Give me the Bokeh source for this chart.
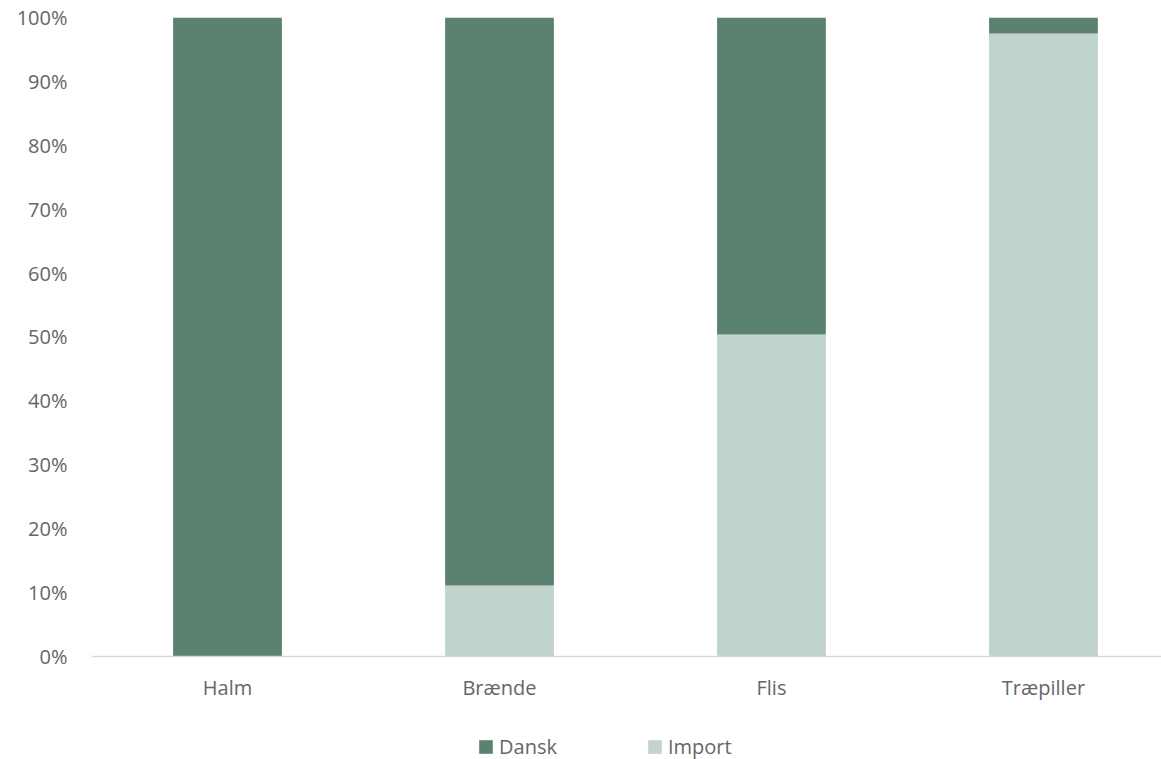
from bokeh.plotting import figure
from bokeh.models import ColumnDataSource, Range1d, Legend, LegendItem, FixedTicker, Span
from bokeh.core.properties import value
from bokeh.embed import file_html
from bokeh.resources import INLINE

categories = ["Halm", "Brænde", "Flis", "Træpiller"]
import_share = [0.0, 11.1, 50.4, 97.5]
dansk_share = [100.0, 88.9, 49.6, 2.5]
series_names = ["Dansk", "Import"]
y_ticks = [0, 10, 20, 30, 40, 50, 60, 70, 80, 90, 100]

colors = {"Dansk": "#5B8270", "Import": "#C0D4CB"}
FONT = "Open Sans"
TXT = "#666666"
FS = "20px"

xs = list(range(len(categories)))
src = ColumnDataSource(dict(x=xs, Import=import_share, Dansk=dansk_share, label=categories))

p = figure(width=1161, height=759, output_backend="svg", toolbar_location=None,
           x_range=Range1d(-0.5, 3.434), y_range=Range1d(-16.12, 100),
           x_axis_type=None,
           min_border_left=91, min_border_right=0, min_border_top=17, min_border_bottom=0)
p.outline_line_color = None
p.xgrid.visible = False
p.ygrid.visible = False

r = p.vbar_stack(["Import", "Dansk"], x="x", width=0.4, source=src,
                 color=[colors["Import"], colors["Dansk"]], line_color=None)

# category axis: baseline + labels
p.add_layout(Span(location=0, dimension="width", line_color="#D9D9D9", line_width=1.5))
p.text(x="x", y=-4.85, text="label", source=src, text_font=value(FONT),
       text_font_size=FS, text_color=TXT, text_align="center", text_baseline="middle")

p.yaxis.ticker = FixedTicker(ticks=y_ticks)
p.yaxis.major_label_overrides = {t: f"{t}%" for t in y_ticks}
p.yaxis.axis_line_color = None
p.yaxis.major_tick_line_color = None
p.yaxis.minor_tick_line_color = None
p.yaxis.major_label_text_font = FONT
p.yaxis.major_label_text_font_size = FS
p.yaxis.major_label_text_color = TXT
p.yaxis.major_label_standoff = 18

legend = Legend(items=[LegendItem(label=series_names[0], renderers=[r[1]]),
                       LegendItem(label=series_names[1], renderers=[r[0]])],
                orientation="horizontal", location=(386, -1),
                label_text_font=FONT, label_text_font_size=FS, label_text_color=TXT,
                glyph_width=17, glyph_height=17, spacing=89, label_standoff=5,
                border_line_color=None, background_fill_alpha=0, margin=0, padding=0,
                label_height=20)
p.add_layout(legend, "center")

open("out.html", "w").write(file_html(p, INLINE))
